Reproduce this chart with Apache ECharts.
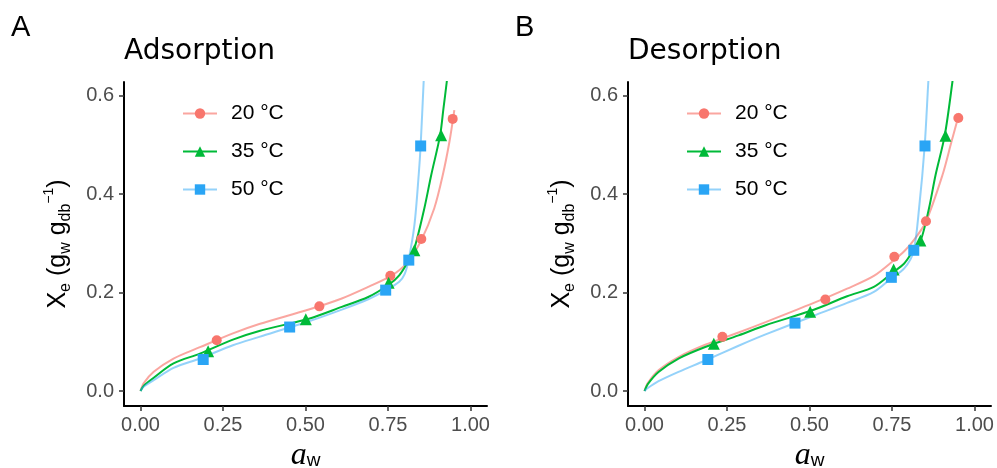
<!DOCTYPE html>
<html>
  <head>
    <meta charset="utf-8">
    <title>Sorption isotherms</title>
    <style>
    html,body,#chart {
      margin: 0;
      padding: 0;
      width: 997px;
      height: 468px;
      background: #fff;
    }
    </style>
  </head>
  <body>
    <div id="chart"></div>

    <script src="https://cdn.jsdelivr.net/npm/echarts@6/dist/echarts.min.js"></script>

    <script type="text/javascript">
// tick positions and labels
var awTicks = [0, 0.25, 0.5, 0.75, 1];
var awLabels = ['0.00', '0.25', '0.50', '0.75', '1.00'];
var xeTicks = [0, 0.2, 0.4, 0.6];
var xeLabels = ['0.0', '0.2', '0.4', '0.6'];

var temps = ['20 °C', '35 °C', '50 °C'];
var panelTitles = ['Adsorption', 'Desorption'];
var panelTags = ['A', 'B'];

// measured points, adsorption
var adsAw20 = [0.231, 0.542, 0.757, 0.851, 0.946];
var adsXe20 = [0.103, 0.172, 0.234, 0.309, 0.553];
var adsAw35 = [0.205, 0.501, 0.752, 0.830, 0.911];
var adsXe35 = [0.081, 0.146, 0.220, 0.286, 0.520];
var adsAw50 = [0.190, 0.452, 0.743, 0.813, 0.849];
var adsXe50 = [0.064, 0.130, 0.205, 0.266, 0.498];

// measured points, desorption
var desAw20 = [0.236, 0.548, 0.757, 0.853, 0.951];
var desXe20 = [0.110, 0.186, 0.273, 0.345, 0.555];
var desAw35 = [0.210, 0.502, 0.755, 0.836, 0.912];
var desXe35 = [0.096, 0.161, 0.247, 0.306, 0.519];
var desAw50 = [0.192, 0.456, 0.748, 0.816, 0.850];
var desXe50 = [0.064, 0.138, 0.231, 0.286, 0.498];

// fitted curves, [aw, Xe]
var adsFit20 = [[0,0],[0.01,0.016],[0.04,0.039],[0.10,0.066],[0.18,0.089],[0.28,0.117],[0.36,0.136],[0.51,0.1655],[0.61,0.188],[0.69,0.2115],[0.754,0.232],[0.784,0.2455],[0.81,0.262],[0.85,0.305],[0.89,0.371],[0.916,0.439],[0.936,0.506],[0.951,0.571]];
var adsFit35 = [[0,0],[0.01,0.011],[0.04,0.027],[0.10,0.056],[0.18,0.076],[0.28,0.1045],[0.36,0.122],[0.51,0.147],[0.61,0.171],[0.69,0.191],[0.754,0.217],[0.784,0.235],[0.81,0.262],[0.83,0.29],[0.86,0.371],[0.881,0.439],[0.908,0.52],[0.918,0.574],[0.928,0.628],[0.935,0.67]];
var adsFit50 = [[0,0],[0.01,0.009],[0.04,0.022],[0.10,0.047],[0.18,0.066],[0.28,0.093],[0.36,0.11],[0.51,0.1417],[0.61,0.1655],[0.69,0.1865],[0.744,0.205],[0.784,0.222],[0.80,0.237],[0.812,0.265],[0.83,0.337],[0.843,0.439],[0.849,0.5],[0.858,0.628],[0.862,0.68]];

var desFit20 = [[0,0],[0.01,0.016],[0.0425,0.042],[0.103,0.069],[0.184,0.094],[0.285,0.119],[0.367,0.140],[0.513,0.179],[0.614,0.208],[0.695,0.234],[0.756,0.266],[0.787,0.284],[0.812,0.303],[0.852,0.343],[0.903,0.439],[0.930,0.506],[0.954,0.565]];
var desFit35 = [[0,0],[0.01,0.014],[0.0425,0.0387],[0.103,0.066],[0.184,0.0895],[0.285,0.113],[0.367,0.1336],[0.513,0.165],[0.614,0.1926],[0.695,0.2115],[0.751,0.240],[0.787,0.259],[0.812,0.283],[0.837,0.306],[0.862,0.371],[0.882,0.439],[0.910,0.52],[0.933,0.628],[0.94,0.67]];
var desFit50 = [[0,0],[0.01,0.006],[0.0425,0.02],[0.103,0.039],[0.184,0.062],[0.285,0.092],[0.367,0.115],[0.513,0.153],[0.614,0.179],[0.695,0.2014],[0.746,0.228],[0.787,0.249],[0.815,0.283],[0.832,0.371],[0.849,0.498],[0.860,0.628],[0.865,0.68]];

var markColors = ['#F8766D', '#00BA38', '#2AA5F5'];
var lineColors = ['rgba(248,118,109,0.65)', '#00BA38', 'rgba(42,165,245,0.5)'];
var symbols = ['circle', 'triangle', 'rect'];
var symbolSizes = [10, 12, 11];

var SANS = 'Liberation Sans';
var TITLE_FONT = 'DejaVu Sans';

function zip(xs, ys) {
    return xs.map(function (x, i) { return [x, ys[i]]; });
}

function nearestLabel(ticks, labels) {
    return function (v) {
        var best = 0;
        for (var i = 1; i < ticks.length; i++) {
            if (Math.abs(ticks[i] - v) < Math.abs(ticks[best] - v)) best = i;
        }
        return labels[best];
    };
}

var panels = [
    { fits: [adsFit20, adsFit35, adsFit50], pts: [zip(adsAw20, adsXe20), zip(adsAw35, adsXe35), zip(adsAw50, adsXe50)] },
    { fits: [desFit20, desFit35, desFit50], pts: [zip(desAw20, desXe20), zip(desAw35, desXe35), zip(desAw50, desXe50)] }
];

var gridLeft = [124, 628];

var grids = [], xAxes = [], yAxes = [], series = [], titles = [], legends = [];

panels.forEach(function (p, k) {
    grids.push({ left: gridLeft[k], top: 82, width: 363, height: 324, outerBoundsMode: 'none', containLabel: false });

    xAxes.push({
        type: 'value', gridIndex: k, min: -0.05, max: 1.05,
        name: '{a|a}{w|w}', nameLocation: 'middle', nameGap: 22,
        nameTextStyle: {
            rich: {
                a: { fontFamily: 'Liberation Serif', fontStyle: 'italic', fontSize: 32, color: '#000', lineHeight: 30, verticalAlign: 'top' },
                w: { fontFamily: SANS, fontSize: 19, color: '#000', lineHeight: 30, verticalAlign: 'bottom' }
            }
        },
        axisLine: { show: true, onZero: false, lineStyle: { color: '#000', width: 2 } },
        axisTick: { show: true, length: 5, customValues: awTicks, lineStyle: { color: '#333', width: 1.5 } },
        axisLabel: { customValues: awTicks, formatter: nearestLabel(awTicks, awLabels), fontFamily: SANS, fontSize: 20, color: '#4D4D4D', margin: 9 },
        splitLine: { show: false }
    });

    yAxes.push({
        type: 'value', gridIndex: k, min: -0.0305, max: 0.628,
        name: '{x|X}{sub|e}{x| (g}{sub|w}{x| g}{sub|db}{sup|−1}{x|)}',
        nameLocation: 'middle', nameGap: 50,
        nameTextStyle: {
            rich: {
                x: { fontFamily: SANS, fontSize: 25, color: '#000', lineHeight: 32 },
                sub: { fontFamily: SANS, fontSize: 16, color: '#000', lineHeight: 32, verticalAlign: 'bottom' },
                sup: { fontFamily: SANS, fontSize: 14, color: '#000', lineHeight: 32, verticalAlign: 'top' }
            }
        },
        axisLine: { show: true, onZero: false, lineStyle: { color: '#000', width: 2 } },
        axisTick: { show: true, length: 5, customValues: xeTicks, lineStyle: { color: '#333', width: 1.5 } },
        axisLabel: { customValues: xeTicks, formatter: nearestLabel(xeTicks, xeLabels), fontFamily: SANS, fontSize: 20, color: '#4D4D4D', margin: 10 },
        splitLine: { show: false }
    });

    titles.push({ text: panelTags[k], left: gridLeft[k] - 118, top: 8, textStyle: { fontFamily: SANS, fontSize: 29, fontWeight: 'normal', color: '#000' } });
    titles.push({ text: panelTitles[k], left: gridLeft[k] - 5, top: 33, textStyle: { fontFamily: TITLE_FONT, fontSize: 28, fontWeight: 'normal', color: '#000' } });

    // curves first so that the legend picks the line icon
    temps.forEach(function (t, i) {
        series.push({
            name: t, type: 'line', xAxisIndex: k, yAxisIndex: k,
            data: p.fits[i], smooth: 0.3,
            showSymbol: false, symbol: symbols[i], symbolSize: symbolSizes[i],
            itemStyle: { color: markColors[i] },
            lineStyle: { color: lineColors[i], width: 2 },
            clip: true, z: 2
        });
    });
    temps.forEach(function (t, i) {
        series.push({
            name: t, type: 'scatter', xAxisIndex: k, yAxisIndex: k,
            data: p.pts[i], symbol: symbols[i], symbolSize: symbolSizes[i],
            itemStyle: { color: markColors[i], opacity: 1 },
            z: 3
        });
    });

    legends.push({
        data: temps, orient: 'vertical', left: gridLeft[k] + 53, top: 98,
        itemWidth: 34, itemHeight: 13, itemGap: 17,
        textStyle: { fontFamily: SANS, fontSize: 21, color: '#000', padding: [0, 0, 0, 9] },
        selectedMode: false
    });
});

var chart = echarts.init(document.getElementById('chart'));
chart.setOption({
    animation: false,
    backgroundColor: '#fff',
    title: titles,
    legend: legends,
    grid: grids,
    xAxis: xAxes,
    yAxis: yAxes,
    series: series
});
</script>
  </body>
</html>
